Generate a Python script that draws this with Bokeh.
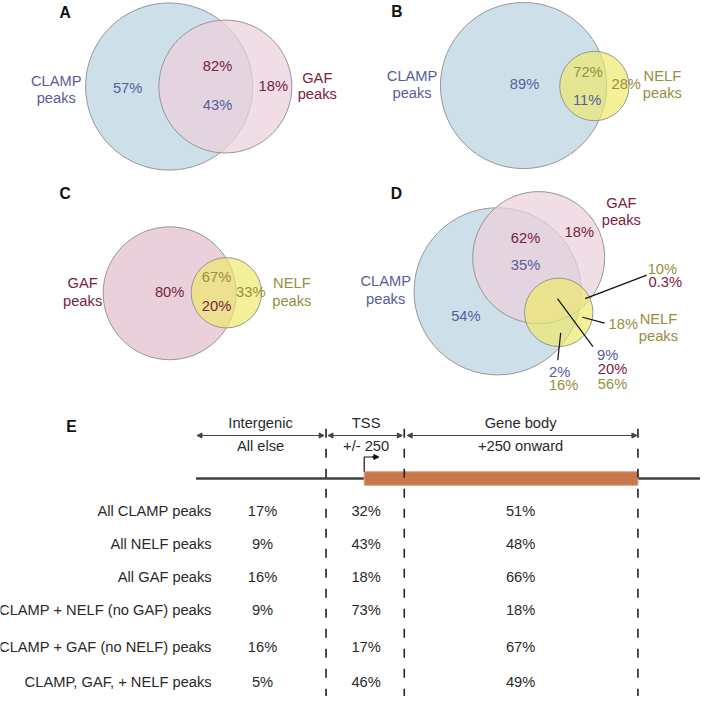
from bokeh.plotting import figure
from bokeh.models import Range1d, Arrow, NormalHead, ColumnDataSource
from bokeh.core.properties import value
from bokeh.embed import file_html
from bokeh.resources import INLINE

# ---------------- data ----------------
# Table (panel E)
row_labels = ["All CLAMP peaks", "All NELF peaks", "All GAF peaks",
              "CLAMP + NELF (no GAF) peaks", "CLAMP + GAF (no NELF) peaks",
              "CLAMP, GAF, + NELF peaks"]
intergenic_pct = [17, 9, 16, 9, 16, 5]
tss_pct = [32, 43, 18, 73, 17, 46]
gene_body_pct = [51, 48, 66, 18, 67, 49]
region_names = ["Intergenic", "TSS", "Gene body"]
region_desc = ["All else", "+/- 250", "+250 onward"]

# Venn panels: circle sets
circle_set = ["CLAMP", "GAF", "CLAMP", "NELF", "GAF", "NELF", "CLAMP", "GAF", "NELF"]
# Venn panel labels
venn_text = ["CLAMP", "peaks", "57%", "82%", "43%", "18%", "GAF", "peaks",
             "CLAMP", "peaks", "89%", "72%", "11%", "28%", "NELF", "peaks",
             "GAF", "peaks", "80%", "67%", "20%", "33%", "NELF", "peaks",
             "GAF", "peaks", "62%", "18%", "35%", "CLAMP", "peaks", "54%",
             "10%", "0.3%", "18%", "NELF", "peaks", "9%", "20%", "56%", "2%", "16%"]
venn_set = ["CLAMP", "CLAMP", "CLAMP", "GAF", "CLAMP", "GAF", "GAF", "GAF",
            "CLAMP", "CLAMP", "CLAMP", "NELF", "CLAMP", "NELF", "NELF", "NELF",
            "GAF", "GAF", "GAF", "NELF", "GAF", "NELF", "NELF", "NELF",
            "GAF", "GAF", "GAF", "GAF", "CLAMP", "CLAMP", "CLAMP", "CLAMP",
            "NELF", "GAF", "NELF", "NELF", "NELF", "CLAMP", "GAF", "NELF", "CLAMP", "NELF"]

# ---------------- layout (reference pixel coordinates) ----------------
circ_x = [172.5, 230, 535, 607.5, 173, 231, 508.5, 550.5, 571]
circ_y = [88, 88, 87, 87.5, 299.5, 299, 297.5, 263, 319]
circ_r = [85.5, 68, 85, 35.5, 68, 36, 85.5, 67.5, 35]

venn_x = [57, 57, 130, 222, 222, 279, 324, 324,
          421, 421, 536, 601, 600, 640, 677, 677,
          84, 84, 173, 221, 221, 256, 298, 298,
          635, 635, 537, 592, 537, 394, 394, 476,
          677, 680, 637, 673, 673, 621, 626, 626, 572, 576]
venn_y = [82, 100, 90, 67, 107, 87, 79, 96,
          77, 95, 85, 73, 102, 85, 77, 95,
          289, 307, 298, 283, 313, 298, 289, 307,
          207, 225, 243, 237, 271, 287, 305, 323,
          275, 288, 331, 326, 343, 363, 377, 392, 380, 393]

set_fill = {"CLAMP": "#cddfe9", "GAF": "#ead0db", "NELF": "#efe96a"}
set_alpha = {"CLAMP": 1.0, "GAF": 0.73, "NELF": 0.68}
set_text = {"CLAMP": "#595c9b", "GAF": "#7a2142", "NELF": "#958f40"}

FONT = value("Liberation Sans")
S = 700 / 716.0  # screen px per reference px

p = figure(width=700, height=696, x_range=Range1d(0, 716), y_range=Range1d(712, 0),
           output_backend="svg", toolbar_location=None, min_border=0)
p.axis.visible = False
p.grid.visible = False
p.outline_line_color = None
p.background_fill_color = "white"

# circles (first circle of each panel opaque, later ones translucent)
base_alpha = [set_alpha[s] for s in circle_set]
for i in [0, 2, 4, 6]:
    base_alpha[i] = 1.0
csrc = ColumnDataSource(dict(x=circ_x, y=circ_y, r=circ_r,
                             fill=[set_fill[s] for s in circle_set],
                             alpha=base_alpha))
p.circle(x="x", y="y", radius="r", source=csrc, fill_color="fill", fill_alpha="alpha",
         line_color="#969696", line_width=1)

# panel letters
p.text(x=[66, 405.5, 66, 405, 72.5], y=[12, 11, 197, 197, 436], text=["A", "B", "C", "D", "E"],
       text_font=FONT, text_font_style="bold", text_font_size=f"{16*S:.1f}px",
       text_align="center", text_baseline="middle", text_color="#111111")

# venn labels
vsrc = ColumnDataSource(dict(x=venn_x, y=venn_y, t=venn_text,
                             c=[set_text[s] for s in venn_set]))
p.text(x="x", y="y", text="t", source=vsrc, text_color="c", text_font=FONT,
       text_font_size=f"{15*S:.1f}px", text_align="center", text_baseline="middle")

# leader lines in D
p.segment(x0=[598, 595.3, 569.7, 573], y0=[305, 324, 305, 340],
          x1=[661, 618, 606, 570], y1=[281, 330, 354, 368],
          line_color="#111111", line_width=1.2)

# ---------------- panel E ----------------
col_x = [268, 374, 532]
row_y = [522, 556, 590, 624, 661, 697]
bound_x = [333, 413, 652]

# gene line and body
p.segment(x0=[200], y0=[489], x1=[716], y1=[489], line_color="#404040", line_width=2.6)
p.quad(left=[372], right=[652], top=[482], bottom=[496], fill_color="#c8774d",
       line_color="#e2a583", line_width=1)
# TSS arrow
p.line(x=[372, 372, 382], y=[482, 467, 467], line_color="#111111", line_width=1.2)
p.add_layout(Arrow(end=NormalHead(size=5, fill_color="#111111", line_color="#111111"),
                   x_start=380, y_start=467, x_end=387, y_end=467,
                   line_color="#111111", line_width=1.2))

# dashed boundaries
p.segment(x0=bound_x, y0=[438] * 3, x1=bound_x, y1=[712] * 3,
          line_color="#222222", line_width=1.6, line_dash="9 11")

# region arrows
arr_x0 = [201, 335, 416]
arr_x1 = [331, 411, 651]
for a, b in zip(arr_x0, arr_x1):
    p.add_layout(Arrow(start=NormalHead(size=5, fill_color="#444444", line_color="#444444"),
                       end=NormalHead(size=5, fill_color="#444444", line_color="#444444"),
                       x_start=a, y_start=445, x_end=b, y_end=445,
                       line_color="#444444", line_width=1.2))

hdr_x = [266, 374, 532]
p.text(x=hdr_x, y=[432] * 3, text=region_names, text_font=FONT,
       text_font_size=f"{15*S:.1f}px", text_align="center", text_baseline="middle",
       text_color="#2a2a2a")
p.text(x=hdr_x, y=[456] * 3, text=region_desc, text_font=FONT,
       text_font_size=f"{15*S:.1f}px", text_align="center", text_baseline="middle",
       text_color="#2a2a2a")

# table
tsize = f"{15*S:.1f}px"
p.text(x=[216] * len(row_labels), y=row_y, text=row_labels, text_font=FONT,
       text_font_size=tsize, text_align="right", text_baseline="middle", text_color="#2a2a2a")
for cx, vals in zip(col_x, [intergenic_pct, tss_pct, gene_body_pct]):
    p.text(x=[cx] * len(vals), y=row_y, text=[f"{v}%" for v in vals], text_font=FONT,
           text_font_size=tsize, text_align="center", text_baseline="middle",
           text_color="#2a2a2a")

open("out.html", "w").write(file_html(p, INLINE))
